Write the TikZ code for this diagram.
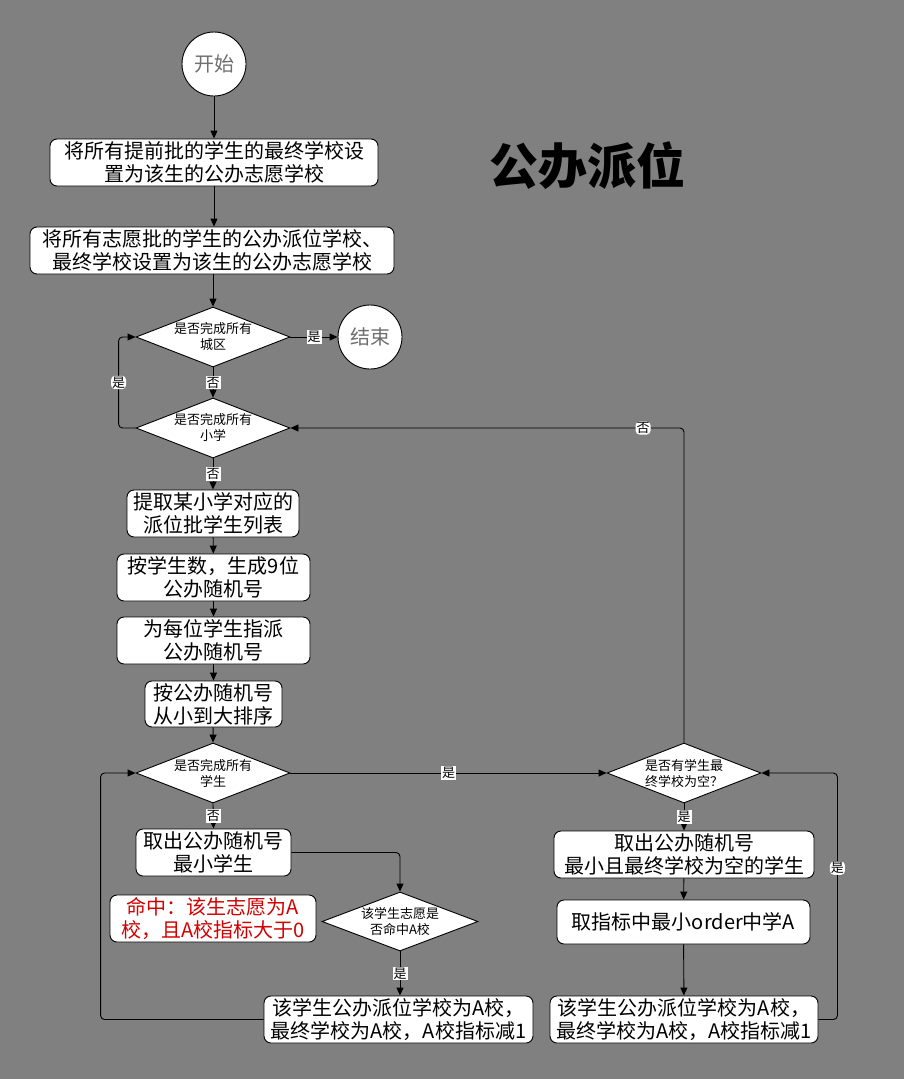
\documentclass[tikz,border=0pt]{standalone}
\usepackage{fontspec}
\setmainfont{Noto Sans CJK SC}
\usetikzlibrary{arrows.meta,shapes.geometric}
\definecolor{bg}{RGB}{128,128,128}
\definecolor{redtxt}{RGB}{210,0,0}
\definecolor{circtxt}{RGB}{110,110,110}
\tikzset{
  box/.style={draw=black, fill=white, rounded corners=7pt, line width=0.9pt, inner sep=0pt,
    align=center, font=\fontsize{20}{23}\selectfont},
  dia/.style={draw=black, fill=white, diamond, inner sep=0pt, line width=0.9pt,
    minimum width=154pt, minimum height=60pt},
  dtext/.style={align=center, font=\fontsize{13}{16}\selectfont, text=black},
  circ/.style={draw=black, fill=white, circle, minimum size=64pt, inner sep=0pt, line width=0.9pt,
    font=\fontsize{20}{24}\selectfont, text=circtxt},
  lab/.style={fill=white, inner sep=1pt, font=\fontsize{13}{14}\selectfont, text=black},
  conn/.style={draw=black, line width=0.9pt, -{Triangle[length=8pt,width=7pt]}},
}
\begin{document}
\begin{tikzpicture}[x=1pt,y=-1pt]
\path[fill=bg] (0,0) rectangle (904,1079);
\useasboundingbox (0,0) rectangle (904,1079);

\node[circ] (start) at (214,64) {开始};
\node[box, minimum width=328pt, minimum height=47pt] (b1) at (214,162.5) {将所有提前批的学生的最终学校设\\置为该生的公办志愿学校};
\node[box, minimum width=364pt, minimum height=47pt] (b2) at (212,250.5) {将所有志愿批的学生的公办派位学校、\\最终学校设置为该生的公办志愿学校};
\node[font=\bfseries\fontsize{49}{52}\selectfont, text=black] (title) at (587,166) {公办派位};

\node[dia, label={[dtext]center:是否完成所有\\城区}] (d1) at (213,337) {};
\node[circ] (end) at (370,337) {结束};
\node[dia, label={[dtext]center:是否完成所有\\小学}] (d2) at (213,428) {};

\node[box, minimum width=172pt, minimum height=47pt] (b3) at (213,513.5) {提取某小学对应的\\派位批学生列表};
\node[box, minimum width=193pt, minimum height=47pt] (b4) at (213.5,577.5) {按学生数，生成9位\\公办随机号};
\node[box, minimum width=193pt, minimum height=47pt] (b5) at (213.5,640.5) {为每位学生指派\\公办随机号};
\node[box, minimum width=137pt, minimum height=46pt] (b6) at (213.5,704) {按公办随机号\\从小到大排序};

\node[dia, label={[dtext]center:是否完成所有\\学生}] (d3) at (213,773) {};
\node[box, minimum width=155pt, minimum height=47pt] (b7) at (213.5,852.5) {取出公办随机号\\最小学生};
\node[box, minimum width=206pt, minimum height=47pt, text=redtxt] (note) at (213,918.5) {命中：该生志愿为A\\校，且A校指标大于0};
\node[dia, minimum width=156pt, minimum height=59pt, label={[dtext]center:该学生志愿是\\否命中A校}] (d5) at (400,921.5) {};
\node[box, minimum width=269pt, minimum height=47pt] (b8) at (398.5,1019.5) {该学生公办派位学校为A校，\\最终学校为A校，A校指标减1};

\node[dia, label={[dtext]center:是否有学生最\\终学校为空？}] (d4) at (684,773) {};
\node[box, minimum width=260pt, minimum height=47pt] (b9) at (684,854.5) {取出公办随机号\\最小且最终学校为空的学生};
\node[box, minimum width=253pt, minimum height=44pt] (b10) at (683.5,922) {取指标中最小order中学A};
\node[box, minimum width=268pt, minimum height=47pt] (b11) at (684,1019.5) {该学生公办派位学校为A校，\\最终学校为A校，A校指标减1};

% connectors
\draw[conn] (start) -- (b1);
\draw[conn] (b1) -- (b1.south |- b2.north);
\draw[conn] (b2.south -| d1.north) -- (d1.north);
\draw[conn] (d1.east) -- node[lab]{是} (end.west);
\draw[conn] (d1.south) -- node[lab]{否} (d2.north);
\draw[conn, rounded corners=4pt] (d2.west) -- ++(-17,0) |- node[lab, pos=0.25]{是} (d1.west);
\draw[conn] (d2.south) -- node[lab]{否} (b3.north);
\draw[conn] (b3) -- (b4);
\draw[conn] (b4) -- (b5);
\draw[conn] (b5) -- (b6);
\draw[conn] (b6) -- (d3.north);
\draw[conn] (d3.east) -- node[lab]{是} (d4.west);
\draw[conn] (d3.south) -- node[lab]{否} (b7.north);
\draw[conn, rounded corners=4pt] (b7.east) -| (d5.north);
\draw[conn] (d5.south) -- node[lab]{是} (b8.north -| d5.south);
\draw[conn, rounded corners=4pt] (b8.west) -- ++(-163,0) |- (d3.west);
\draw[conn, rounded corners=4pt] (d4.north) |- node[lab, pos=0.552]{否} (d2.east);
\draw[conn] (d4.south) -- node[lab]{是} (b9.north);
\draw[conn] (b9) -- (b10);
\draw[conn] (b10) -- (b11);
\draw[conn, rounded corners=4pt] (b11.east) -- ++(19,0) |- node[lab, pos=0.307]{是} (d4.east);
\end{tikzpicture}
\end{document}
